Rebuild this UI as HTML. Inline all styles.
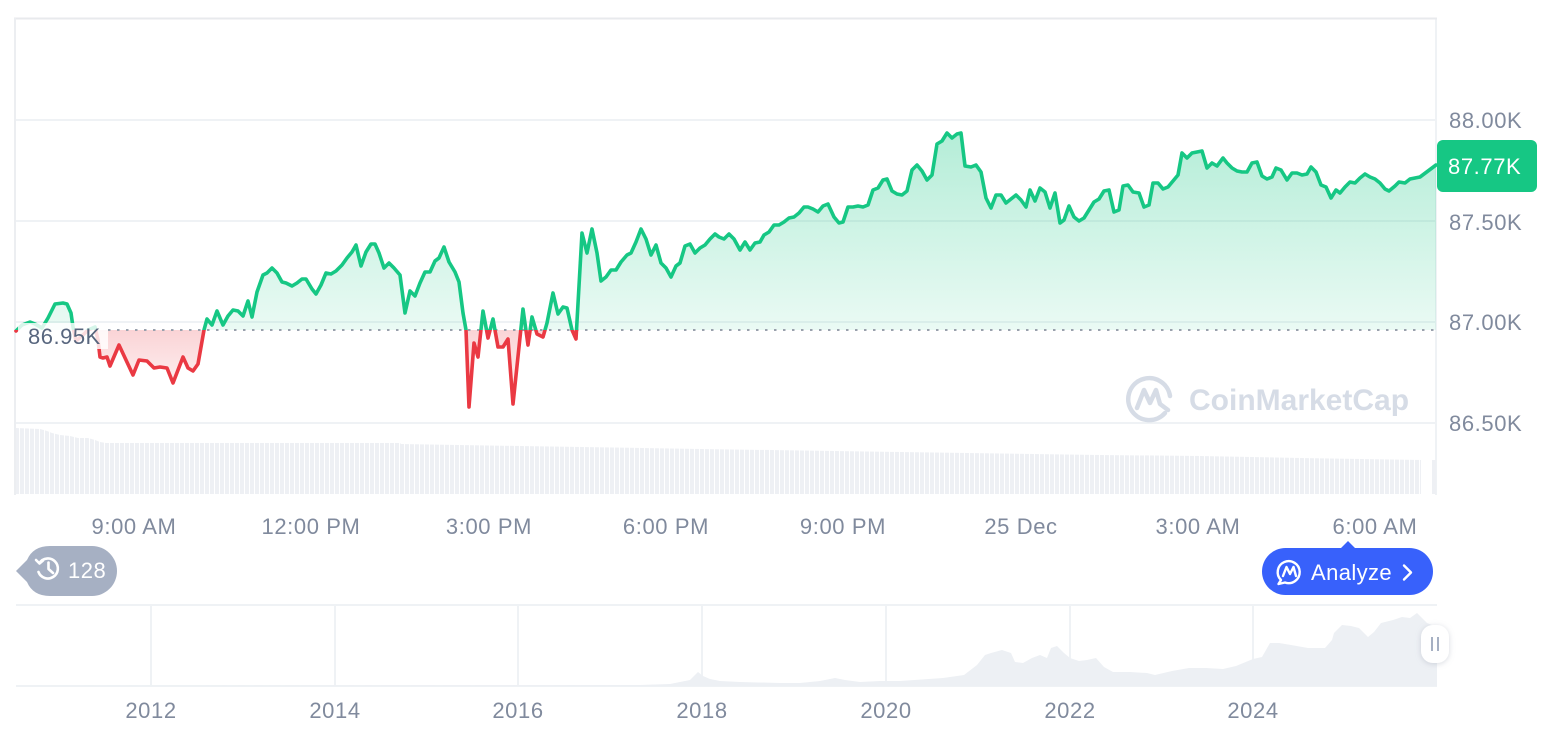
<!DOCTYPE html>
<html><head><meta charset="utf-8"><style>
html,body{margin:0;padding:0;background:#fff;}
body{width:1566px;height:732px;overflow:hidden;}
svg{display:block;font-family:"Liberation Sans",sans-serif;}
</style></head><body>
<svg width="1566" height="732" viewBox="0 0 1566 732" xmlns="http://www.w3.org/2000/svg" xmlns:xlink="http://www.w3.org/1999/xlink">
<defs>
<linearGradient id="gG" x1="0" y1="133" x2="0" y2="330" gradientUnits="userSpaceOnUse">
<stop offset="0" stop-color="#16c784" stop-opacity="0.32"/>
<stop offset="1" stop-color="#16c784" stop-opacity="0.09"/>
</linearGradient>
<linearGradient id="gR" x1="0" y1="330" x2="0" y2="410" gradientUnits="userSpaceOnUse">
<stop offset="0" stop-color="#ea3943" stop-opacity="0.22"/>
<stop offset="1" stop-color="#ea3943" stop-opacity="0.02"/>
</linearGradient>
<clipPath id="cTop"><rect x="0" y="0" width="1566" height="330"/></clipPath>
<clipPath id="cBot"><rect x="0" y="330" width="1566" height="200"/></clipPath>
<pattern id="vp" x="15" y="0" width="5" height="10" patternUnits="userSpaceOnUse">
<rect x="0" y="0" width="4" height="10" fill="#eef0f4"/>
</pattern>
<filter id="sh" x="-100%" y="-100%" width="300%" height="300%">
<feDropShadow dx="0" dy="1" stdDeviation="3" flood-color="#8a93a6" flood-opacity="0.35"/>
</filter>
<polygon id="ar" points="16,331 22,325 30,322 35,324 42,328 48,318 52,310 55,304 63,303 67,304 71,313 73,327 76,341 82,336 88,330 95,327 98,340 100,357 103,358 107,357 110,366 119,345 126,360 133,375 139,360 147,361 154,368 160,367 167,368 173,383 183,357 188,368 193,371 198,364 204,330 207,319 212,325 217,311 223,325 228,316 233,310 238,311 243,316 248,301 252,317 257,292 263,275 267,273 272,268 277,273 282,282 286,283 292,286 297,283 302,279 306,279 312,289 316,294 321,285 326,273 331,274 336,271 342,265 347,258 352,252 356,245 361,266 366,252 371,244 375,244 379,253 384,268 389,263 394,268 400,275 405,313 410,291 415,296 420,283 425,272 430,272 435,261 439,258 444,247 449,262 455,272 459,282 463,313 466,330 469,407 474,343 478,357 483,311 488,338 493,319 498,347 503,347 508,339 513,404 523,309 528,345 532,317 537,334 543,337 547,323 553,293 558,314 563,307 567,308 572,330 576,339 582,233 587,253 592,229 597,253 601,281 606,277 611,270 616,270 621,262 627,255 631,253 636,242 641,229 646,239 651,255 656,245 661,263 666,268 671,277 676,266 680,263 685,246 690,244 695,253 700,248 705,245 710,239 715,234 719,237 724,239 729,234 734,239 740,250 745,242 750,250 755,243 760,242 764,235 769,232 774,225 779,225 784,222 789,218 794,217 799,213 804,207 808,207 813,209 818,212 823,206 828,204 834,217 839,223 843,222 848,207 853,207 858,206 863,207 868,205 873,190 878,188 883,180 887,179 892,191 897,194 902,195 907,191 912,170 917,165 922,171 927,180 932,175 937,144 942,141 947,133 952,138 957,134 961,133 965,166 971,167 976,165 981,172 986,198 991,208 996,195 1001,195 1006,203 1011,199 1016,195 1021,200 1026,207 1030,190 1035,201 1040,188 1045,192 1050,208 1055,193 1060,223 1064,220 1069,206 1074,217 1079,221 1084,218 1089,210 1094,202 1099,199 1104,191 1109,190 1114,212 1119,210 1123,186 1128,185 1133,192 1139,193 1144,207 1149,205 1153,183 1158,183 1163,189 1168,187 1173,181 1178,175 1182,153 1187,158 1192,153 1197,152 1202,151 1207,168 1212,163 1217,166 1223,158 1227,163 1232,168 1237,171 1242,172 1247,172 1252,163 1257,162 1262,176 1267,179 1272,177 1276,168 1281,170 1287,180 1292,173 1297,173 1302,175 1307,174 1311,167 1316,172 1321,185 1326,187 1331,198 1336,190 1340,193 1345,187 1350,182 1355,183 1360,178 1365,174 1370,177 1375,179 1380,183 1385,189 1389,191 1395,186 1399,182 1405,183 1410,179 1415,178 1420,177 1428,171 1436,165 1436,330 16,330"/>
<polyline id="ln" points="16,331 22,325 30,322 35,324 42,328 48,318 52,310 55,304 63,303 67,304 71,313 73,327 76,341 82,336 88,330 95,327 98,340 100,357 103,358 107,357 110,366 119,345 126,360 133,375 139,360 147,361 154,368 160,367 167,368 173,383 183,357 188,368 193,371 198,364 204,330 207,319 212,325 217,311 223,325 228,316 233,310 238,311 243,316 248,301 252,317 257,292 263,275 267,273 272,268 277,273 282,282 286,283 292,286 297,283 302,279 306,279 312,289 316,294 321,285 326,273 331,274 336,271 342,265 347,258 352,252 356,245 361,266 366,252 371,244 375,244 379,253 384,268 389,263 394,268 400,275 405,313 410,291 415,296 420,283 425,272 430,272 435,261 439,258 444,247 449,262 455,272 459,282 463,313 466,330 469,407 474,343 478,357 483,311 488,338 493,319 498,347 503,347 508,339 513,404 523,309 528,345 532,317 537,334 543,337 547,323 553,293 558,314 563,307 567,308 572,330 576,339 582,233 587,253 592,229 597,253 601,281 606,277 611,270 616,270 621,262 627,255 631,253 636,242 641,229 646,239 651,255 656,245 661,263 666,268 671,277 676,266 680,263 685,246 690,244 695,253 700,248 705,245 710,239 715,234 719,237 724,239 729,234 734,239 740,250 745,242 750,250 755,243 760,242 764,235 769,232 774,225 779,225 784,222 789,218 794,217 799,213 804,207 808,207 813,209 818,212 823,206 828,204 834,217 839,223 843,222 848,207 853,207 858,206 863,207 868,205 873,190 878,188 883,180 887,179 892,191 897,194 902,195 907,191 912,170 917,165 922,171 927,180 932,175 937,144 942,141 947,133 952,138 957,134 961,133 965,166 971,167 976,165 981,172 986,198 991,208 996,195 1001,195 1006,203 1011,199 1016,195 1021,200 1026,207 1030,190 1035,201 1040,188 1045,192 1050,208 1055,193 1060,223 1064,220 1069,206 1074,217 1079,221 1084,218 1089,210 1094,202 1099,199 1104,191 1109,190 1114,212 1119,210 1123,186 1128,185 1133,192 1139,193 1144,207 1149,205 1153,183 1158,183 1163,189 1168,187 1173,181 1178,175 1182,153 1187,158 1192,153 1197,152 1202,151 1207,168 1212,163 1217,166 1223,158 1227,163 1232,168 1237,171 1242,172 1247,172 1252,163 1257,162 1262,176 1267,179 1272,177 1276,168 1281,170 1287,180 1292,173 1297,173 1302,175 1307,174 1311,167 1316,172 1321,185 1326,187 1331,198 1336,190 1340,193 1345,187 1350,182 1355,183 1360,178 1365,174 1370,177 1375,179 1380,183 1385,189 1389,191 1395,186 1399,182 1405,183 1410,179 1415,178 1420,177 1428,171 1436,165"/>
</defs>

<!-- grid -->
<g stroke="#eff2f5" stroke-width="2" fill="none">
<line x1="15" y1="120" x2="1436" y2="120"/>
<line x1="15" y1="221" x2="1436" y2="221"/>
<line x1="15" y1="322" x2="1436" y2="322"/>
<line x1="15" y1="423" x2="1436" y2="423"/>
<line x1="1436" y1="18" x2="1436" y2="495"/>
</g>
<line x1="14" y1="18.5" x2="1437" y2="18.5" stroke="#e8eaed" stroke-width="2"/>
<line x1="15" y1="18" x2="15" y2="495" stroke="#eceef1" stroke-width="2"/>

<!-- volume -->
<polygon fill="url(#vp)" points="16,428 40,429 47,431 52,433 60,435 70,436 78,438 88,438 95,440 100,442 106,443 400,443 401,444 520,446 700,449 900,452 1100,455 1200,456 1300,458 1421,460 1421,494 16,494"/>
<rect x="1432" y="460" width="4" height="34" fill="#eef0f4"/>

<!-- watermark -->
<g fill="none" stroke="#d6dce6" stroke-width="4.5" stroke-linecap="round" stroke-linejoin="round">
<path d="M1165,413 A21,21 0 1 1 1170,396"/>
<path d="M1137,408 L1144,390 L1150,403 L1156,390 L1160,404 L1168,410"/>
</g>
<text x="1189" y="410" font-size="30" font-weight="bold" fill="#d6dce6">CoinMarketCap</text>

<!-- areas -->
<g clip-path="url(#cTop)"><use xlink:href="#ar" href="#ar" fill="url(#gG)"/></g>
<g clip-path="url(#cBot)"><use xlink:href="#ar" href="#ar" fill="url(#gR)"/></g>

<!-- baseline dotted -->
<line x1="108" y1="330" x2="1436" y2="330" stroke="#9aa1ad" stroke-width="2" stroke-dasharray="2.5 6.5"/>

<!-- line -->
<g clip-path="url(#cTop)"><use xlink:href="#ln" href="#ln" fill="none" stroke="#16c784" stroke-width="3.6" stroke-linejoin="round" stroke-linecap="round"/></g>
<g clip-path="url(#cBot)"><use xlink:href="#ln" href="#ln" fill="none" stroke="#ea3943" stroke-width="3.6" stroke-linejoin="round" stroke-linecap="round"/></g>

<!-- baseline label -->
<rect x="18" y="323" width="90" height="26" fill="#ffffff" fill-opacity="0.82"/>
<text x="28" y="344" font-size="22" fill="#58667e" letter-spacing="0.5">86.95K</text>

<!-- y axis labels -->
<g font-size="22" fill="#808a9d" letter-spacing="0.6">
<text x="1449" y="128">88.00K</text>
<text x="1449" y="230">87.50K</text>
<text x="1449" y="330">87.00K</text>
<text x="1449" y="431">86.50K</text>
</g>
<rect x="1437" y="140" width="100" height="52" rx="6" fill="#16c784"/>
<text x="1448" y="174" font-size="22" fill="#ffffff" letter-spacing="0.6">87.77K</text>

<!-- x axis labels -->
<g font-size="22" fill="#808a9d" text-anchor="middle" letter-spacing="0.6">
<text x="134" y="534">9:00 AM</text>
<text x="311" y="534">12:00 PM</text>
<text x="489" y="534">3:00 PM</text>
<text x="666" y="534">6:00 PM</text>
<text x="843" y="534">9:00 PM</text>
<text x="1021" y="534">25 Dec</text>
<text x="1198" y="534">3:00 AM</text>
<text x="1375" y="534">6:00 AM</text>
</g>

<!-- history badge -->
<path d="M16,571 L27,560 Q33,546 50,546 L92,546 A25,25 0 0 1 92,596 L50,596 Q33,596 27,582 Z" fill="#a6b0c3"/>
<g fill="none" stroke="#fff" stroke-width="2.6" stroke-linecap="round" stroke-linejoin="round">
<path d="M39.5,563 A10,10 0 1 1 38.5,572"/>
<path d="M36,560 L39.5,563.5 L43,560.5"/>
<path d="M48.5,562.5 L48.5,569 L53,573"/>
</g>
<text x="68" y="578" font-size="22" fill="#ffffff" letter-spacing="0.5">128</text>

<!-- analyze button -->
<path d="M1285.5,548 L1341,548 L1348,541 L1355,548 L1409.5,548 A23.5,23.5 0 0 1 1409.5,595 L1285.5,595 A23.5,23.5 0 0 1 1285.5,548 Z" fill="#3861fb"/>
<g fill="none" stroke="#fff" stroke-width="2.4" stroke-linecap="round" stroke-linejoin="round">
<path d="M1281,580 A11,11 0 1 1 1285,582.5 L1278.5,584 Z"/>
<path d="M1283,576 L1286.5,567 L1290,574 L1293.5,567 L1296,576"/>
<polyline points="1404,565.5 1411,572.5 1404,579.5"/>
</g>
<text x="1311" y="580" font-size="22" fill="#ffffff" letter-spacing="0.4">Analyze</text>

<!-- navigator -->
<g stroke="#eff2f5" stroke-width="2" fill="none">
<line x1="16" y1="605" x2="1437" y2="605"/>
<line x1="16" y1="686" x2="1437" y2="686"/>
<line x1="151" y1="605" x2="151" y2="686"/>
<line x1="335" y1="605" x2="335" y2="686"/>
<line x1="518" y1="605" x2="518" y2="686"/>
<line x1="702" y1="605" x2="702" y2="686"/>
<line x1="886" y1="605" x2="886" y2="686"/>
<line x1="1070" y1="605" x2="1070" y2="686"/>
<line x1="1253" y1="605" x2="1253" y2="686"/>
</g>
<polygon fill="#edf0f4" points="16,686 640,685 670,684 690,680 698,672 703,676 710,679 720,681 740,682 780,683 800,683 820,681 835,678 845,680 860,682 880,681 900,681 943,678 964,675 977,665 985,655 991,653 1002,650 1011,653 1015,662 1023,663 1032,658 1040,655 1047,658 1051,648 1057,646 1064,653 1070,658 1079,661 1087,660 1096,658 1104,667 1113,672 1130,672 1147,673 1155,675 1172,671 1189,668 1206,668 1223,669 1236,666 1253,659 1262,657 1270,643 1279,643 1291,645 1308,648 1325,648 1332,640 1334,633 1342,625 1351,626 1359,628 1368,637 1374,632 1381,623 1393,620 1402,617 1410,618 1417,613 1427,623 1437,627 1437,686"/>
<rect x="1421" y="625" width="28" height="38" rx="12" fill="#ffffff" filter="url(#sh)"/>
<g stroke="#a6b0c3" stroke-width="2">
<line x1="1432" y1="637" x2="1432" y2="651"/>
<line x1="1438" y1="637" x2="1438" y2="651"/>
</g>
<g font-size="22" fill="#808a9d" text-anchor="middle" letter-spacing="0.6">
<text x="151" y="718">2012</text>
<text x="335" y="718">2014</text>
<text x="518" y="718">2016</text>
<text x="702" y="718">2018</text>
<text x="886" y="718">2020</text>
<text x="1070" y="718">2022</text>
<text x="1253" y="718">2024</text>
</g>
</svg>
</body></html>
